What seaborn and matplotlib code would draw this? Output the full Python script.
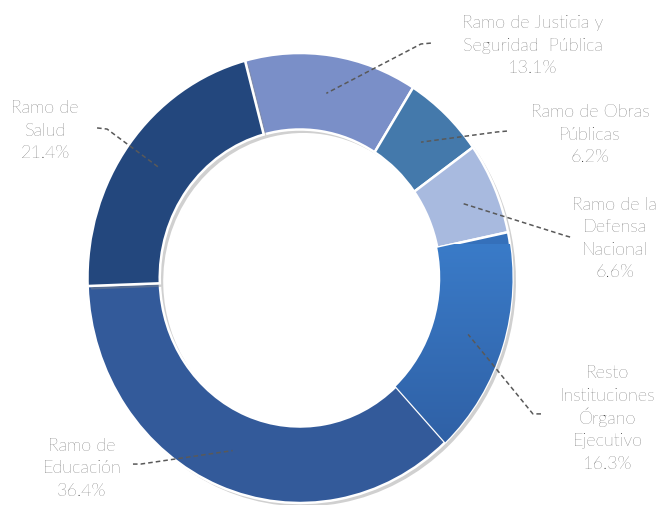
import numpy as np
import matplotlib
matplotlib.use("Agg")
import matplotlib.pyplot as plt
import matplotlib.patheffects as pe
from matplotlib import font_manager as fm
import seaborn as sns

sns.set_theme(style="white")
plt.rcParams['font.family'] = ['Lato', 'DejaVu Sans']

# ---- data (clockwise from the top) ----
labels = ["Ramo de Justicia y\nSeguridad  Pública", "Ramo de Obras\nPúblicas",
          "Ramo de la\nDefensa\nNacional", "Resto\nInstituciones\nÓrgano\nEjecutivo",
          "Ramo de\nEducación", "Ramo de\nSalud"]
values = [13.1, 6.2, 6.6, 16.3, 36.4, 21.4]
colors = ["#7A8FC8", "#4479AB", "#A8BADF", "#3570BA", "#335A9A", "#23477D"]

# label text positions (data coords) and elbow points of leader lines
text_pos = [(1.096, 1.04), (1.365, 0.644), (1.482, 0.182), (1.449, -0.618),
            (-1.026, -0.84), (-1.20, 0.662)]
elbows = [[(0.616, 1.044), (0.569, 1.04)],
          [(0.974, 0.653), (0.927, 0.649)],
          [(1.271, 0.182), (1.252, 0.187)],
          [(1.134, -0.604), (1.096, -0.604)],
          [(-0.786, -0.827), (-0.75, -0.827)],
          [(-0.955, 0.667), (-0.908, 0.662)]]

names = {f.name + "|" + str(f.weight) for f in fm.fontManager.ttflist if "Lato" in f.name}
weight = "light" if any(("300" in n) or ("light" in n.lower()) for n in names) else "normal"

W, H = 667, 506
fig = plt.figure(figsize=(W / 100, H / 100), dpi=100)
cx, cy, rx, ry = 300, 279, 212.5, 225
ax = fig.add_axes([(cx - rx) / W, (H - cy - ry) / H, 2 * rx / W, 2 * ry / H])

shadow = [pe.SimplePatchShadow(offset=(2.5, -2.5), shadow_rgbFace="#8a8a8a", alpha=0.4), pe.Normal()]
wedges, _ = ax.pie(values, colors=colors, startangle=105, counterclock=False,
                   radius=1.0,
                   wedgeprops=dict(width=0.34, edgecolor="white", linewidth=1.8,
                                   path_effects=shadow))
ax.set_aspect("auto")
ax.set_xlim(-1, 1)
ax.set_ylim(-1, 1)
ax.axis("off")

# gradient fill on "Resto" slice
w = wedges[3]
grad = np.linspace(0, 1, 256).reshape(-1, 1)
top = np.array([58, 123, 200]) / 255
bot = np.array([47, 96, 165]) / 255
img = top + (bot - top) * grad[..., None]
img = np.repeat(img, 2, axis=1)
im = ax.imshow(img, extent=(0.3, 1.05, -0.75, 0.15), aspect="auto", zorder=w.get_zorder() + 0.1,
               interpolation="bilinear")
im.set_clip_path(w)

line_px = 22.6  # line pitch in pixels
for wd, val, lab, tp, el in zip(wedges, values, labels, text_pos, elbows):
    mid = np.deg2rad((wd.theta1 + wd.theta2) / 2)
    ax0, ay0 = 0.83 * np.cos(mid), 0.83 * np.sin(mid)
    xs = [el[0][0], el[1][0], ax0]
    ys = [el[0][1], el[1][1], ay0]
    ax.plot(xs, ys, ls=(0, (3, 2)), color="#595959", lw=1.1, clip_on=False, zorder=5)
    lines = lab.split("\n") + [f"{val:.1f}%"]
    n = len(lines)
    for i, ln in enumerate(lines):
        off_px = (i - (n - 1) / 2) * line_px + 5.5
        ax.annotate(ln, xy=tp, xytext=(0, -off_px * 72 / 100), textcoords="offset points",
                    ha="center", va="baseline", fontsize=13, fontweight=weight,
                    color="#222222", annotation_clip=False)

fig.savefig("out.png", dpi=100, facecolor="white")
